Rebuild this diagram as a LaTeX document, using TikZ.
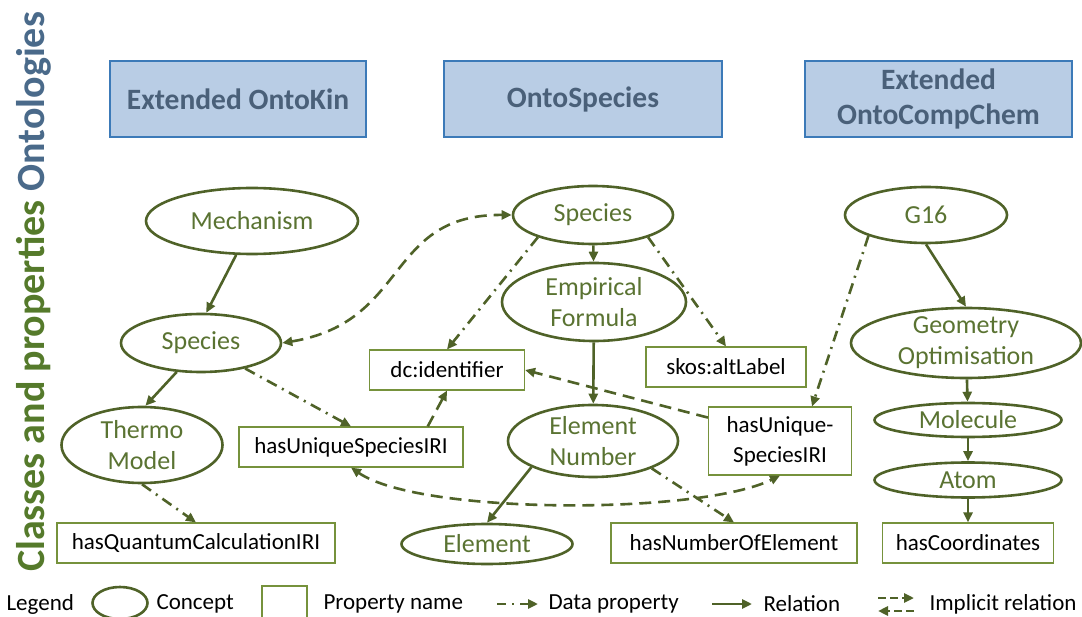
\documentclass[tikz,border=0pt]{standalone}
\usepackage{fontspec}
\setmainfont{Carlito}
\usetikzlibrary{arrows.meta,shapes.geometric}
\definecolor{olv}{HTML}{4F6228}
\definecolor{olvtxt}{HTML}{5A7332}
\definecolor{olvbox}{HTML}{76923C}
\definecolor{hdfill}{HTML}{B9CDE5}
\definecolor{hdline}{HTML}{3C7AB8}
\definecolor{hdtxt}{HTML}{4A6079}
\definecolor{sidegrn}{HTML}{557A2B}
\definecolor{sideblu}{HTML}{4A6A8A}
\begin{document}
\begin{tikzpicture}[x=1pt,y=-1pt]
 \tikzset{
  >={Triangle[length=10pt,width=9pt]},
  cpt/.style={ellipse, draw=olv, line width=2.6pt, inner sep=0pt, text=olvtxt, align=center,
              font=\fontsize{26}{31}\selectfont},
  prp/.style={rectangle, draw=olvbox, line width=1.1pt, inner sep=0pt, align=center,
              minimum height=40pt, font=\fontsize{23}{30}\selectfont},
  hdr/.style={rectangle, draw=hdline, fill=hdfill, line width=2pt, minimum height=76pt, align=center,
              text=hdtxt, font=\fontsize{29.5}{35}\selectfont\bfseries},
  lgd/.style={anchor=west, font=\fontsize{23}{26}\selectfont},
  rel/.style={->, olv, line width=2.6pt},
  dat/.style={->, olv, line width=2.6pt, dash pattern=on 11pt off 6pt on 2pt off 6pt},
  imp/.style={->, olv, line width=2.6pt, dash pattern=on 12pt off 7pt}
 }
 \useasboundingbox (0,0) rectangle (1082,617);

 \node [rotate=90, font=\fontsize{40}{40}\selectfont\bfseries] (ttl) at (34,292)
  {\textcolor{sidegrn}{Classes and properties}\ \textcolor{sideblu}{Ontologies}};

 % ontologies
 \node [hdr, minimum width=256pt] (kin) at (238,99) {Extended OntoKin};
 \node [hdr, minimum width=278pt] (ospc) at (583,99) {OntoSpecies};
 \node [hdr, minimum width=267pt] (occ) at (938.5,99) {Extended\\OntoCompChem};

 % concepts
 \node [cpt, minimum width=212pt, minimum height=66pt] (mech) at (252,221) {Mechanism};
 \node [cpt, minimum width=160pt, minimum height=58pt] (spl) at (201,343) {Species};
 \node [cpt, minimum width=161pt, minimum height=76pt, inner sep=-6pt] (thm) at (142,445) {Thermo\\Model};
 \node [cpt, minimum width=160pt, minimum height=58pt] (spt) at (593,215) {Species};
 \node [cpt, minimum width=184pt, minimum height=78pt, inner sep=-6pt] (emp) at (594,302) {Empirical\\Formula};
 \node [cpt, minimum width=170pt, minimum height=72pt, inner sep=-6pt] (eln) at (593,441) {Element\\Number};
 \node [cpt, minimum width=171pt, minimum height=40pt] (elm) at (487,544) {Element};
 \node [cpt, minimum width=162pt, minimum height=56pt] (g16) at (926,215) {G16};
 \node [cpt, minimum width=230pt, minimum height=70pt, inner sep=-7pt] (geo) at (966,343) {Geometry\\Optimisation};
 \node [cpt, minimum width=187pt, minimum height=34pt] (mol) at (968,420) {Molecule};
 \node [cpt, minimum width=187pt, minimum height=35pt] (atm) at (968,480) {Atom};

 % properties
 \node [prp, minimum width=155pt] (dcid) at (447,370) {dc:identifier};
 \node [prp, minimum width=224pt] (husl) at (351,447) {hasUniqueSpeciesIRI};
 \node [prp, minimum width=160pt] (skos) at (726,367) {skos:altLabel};
 \node [prp, minimum width=143pt, minimum height=68pt] (husr) at (780,441) {hasUnique-\\SpeciesIRI};
 \node [prp, minimum width=278pt] (hqc) at (196,543) {hasQuantumCalculationIRI};
 \node [prp, minimum width=246pt] (hnoe) at (734,543) {hasNumberOfElement};
 \node [prp, minimum width=171pt] (hco) at (968,543) {hasCoordinates};

 \foreach \src/\dst in {mech.245/spl.80, spl.230/thm.85, spt/emp, emp/eln, eln.203/elm.north,
                        g16.south/geo.north, geo/mol, mol/atm, atm/hco}
  { \draw [rel] (\src) -- (\dst); }

 \foreach \src/\dst in {spl.330/husl.north, thm.south/hqc.north, spt.202/dcid.north,
                        spt.338/skos.north, eln.335/hnoe.north}
  { \draw [dat] (\src) -- (\dst); }
 \draw [dat] (g16.200) -- ([xshift=32pt]husr.north);

 \draw [imp, <->] (spl.east) .. controls (410,322) and (385,214) .. (spt.west);
 \draw [imp] (husr.162) -- (dcid.east);
 \draw [imp] (husl.15) -- (dcid.south);
 \draw [imp, <->] (husl.south) .. controls (420,515) and (700,515) .. (husr.south);

 % legend
 \node [lgd] (lg) at (3,604) {Legend};
 \node [cpt, minimum width=55pt, minimum height=32pt] (lcpt) at (120,603) {};
 \node [lgd] (lcptt) at (153,604) {Concept};
 \node [prp, minimum width=45pt, minimum height=44pt] (lprp) at (284.5,608) {};
 \node [lgd] (lprpt) at (320,604) {Property name};
 \coordinate (ld1) at (497,604); \coordinate (ld2) at (538,604);
 \draw [dat, dash pattern=on 9pt off 6pt on 2pt off 6pt] (ld1) -- (ld2);
 \node [lgd] (ldatt) at (545,604) {Data property};
 \coordinate (lr1) at (712,604); \coordinate (lr2) at (752,604);
 \draw [rel] (lr1) -- (lr2);
 \node [lgd] (lrelt) at (760,604) {Relation};
 \coordinate (li1) at (878,598); \coordinate (li2) at (914,598);
 \coordinate (li3) at (878,611); \coordinate (li4) at (914,611);
 \draw [imp, dash pattern=on 8pt off 4pt] (li1) -- (li2);
 \draw [imp, dash pattern=on 8pt off 4pt] (li4) -- (li3);
 \node [lgd] (limpt) at (926,604) {Implicit relation};
\end{tikzpicture}
\end{document}
